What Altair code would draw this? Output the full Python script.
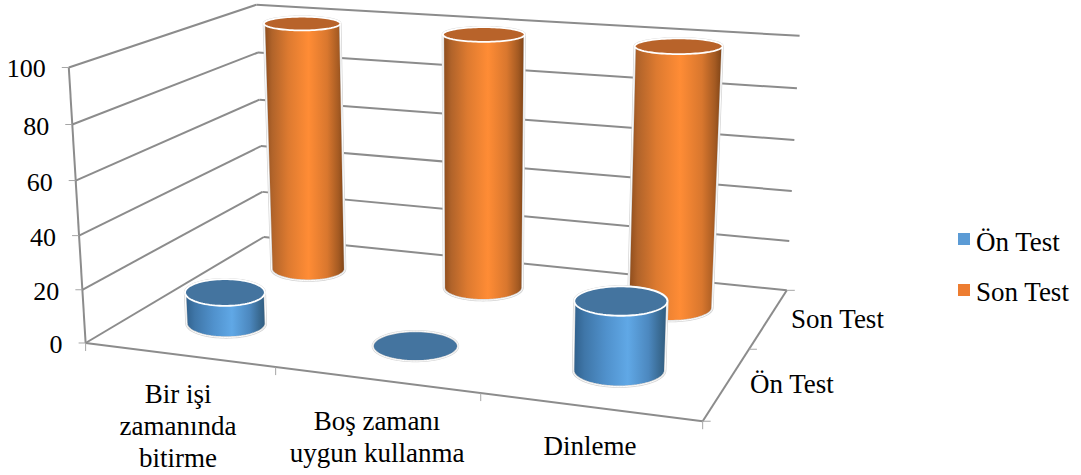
import altair as alt
import numpy as np
import pandas as pd

# Chart values
categories = ["Bir işi zamanında bitirme", "Boş zamanı uygun kullanma", "Dinleme"]
series = ["Ön Test", "Son Test"]
on_test = [12, 0, 25]
son_test = [100, 100, 100]
value_ticks = [0, 20, 40, 60, 80, 100]

W, H = 1081, 475
SERIF = "Liberation Serif"
FONT_SIZE = 27
GRID = "#8c8c8c"

# Camera calibration: box position (x, depth, value/100) -> canvas position
world = [(0, 0, 0), (0, 0, 1), (0, 1, 0), (0, 1, 1), (1, 1, 0), (1, 1, 1),
         (1, 0, 0), (1 / 3, 0, 0), (2 / 3, 0, 0), (1, .5, 0)]
canvas = [(85, 342), (70, 67), (265, 237), (255, 5), (787, 290), (800, 36),
          (703, 420), (275, 368), (481, 395), (748, 349)]
rows = []
for (a, b, c), (u, v) in zip(world, canvas):
    rows.append([a, b, c, 1, 0, 0, 0, 0, -u * a, -u * b, -u * c, -u])
    rows.append([0, 0, 0, 0, a, b, c, 1, -v * a, -v * b, -v * c, -v])
CAMERA = np.linalg.svd(np.array(rows, float))[2][-1].reshape(3, 4)


def project(x, d, value):
    p = CAMERA @ np.array([x, d, value / 100, 1.0])
    return p[0] / p[2], p[1] / p[2]


X = alt.X("px:Q", scale=alt.Scale(domain=[0, W], range=[0, W]), axis=None)
Y = alt.Y("py:Q", scale=alt.Scale(domain=[0, H], range=[0, H]), axis=None)


def segments(pairs, **mark):
    """Draw straight strokes between pairs of canvas positions."""
    recs = []
    for k, (a, b) in enumerate(pairs):
        recs += [dict(px=a[0], py=a[1], seg=k, n=0), dict(px=b[0], py=b[1], seg=k, n=1)]
    return alt.Chart(pd.DataFrame(recs)).mark_line(**mark).encode(
        x=X, y=Y, detail="seg:N", order="n:Q")


def polygon(points, **mark):
    pts = list(points) + [points[0]]
    frame = pd.DataFrame(dict(px=[p[0] for p in pts], py=[p[1] for p in pts], n=range(len(pts))))
    return alt.Chart(frame).mark_line(**mark).encode(x=X, y=Y, order="n:Q")


def labels(texts, align="center", size=FONT_SIZE):
    frame = pd.DataFrame(texts, columns=["px", "py", "t"])
    return alt.Chart(frame).mark_text(
        font=SERIF, fontSize=size, color="#000000", align=align, baseline="middle"
    ).encode(x=X, y=Y, text="t:N")


def hull(points):
    pts = sorted(set(points))
    def half(seq):
        out = []
        for p in seq:
            while len(out) > 1 and ((out[-1][0] - out[-2][0]) * (p[1] - out[-2][1])
                                    - (out[-1][1] - out[-2][1]) * (p[0] - out[-2][0])) <= 0:
                out.pop()
            out.append(p)
        return out[:-1]
    return half(pts) + half(pts[::-1])


def gradient(stops):
    return alt.LinearGradient(
        gradient="linear", x1=0, x2=1, y1=0, y2=0,
        stops=[alt.GradientStop(color=c, offset=o) for o, c in stops])


ORANGE_BODY = gradient([(0, "#8a4a1b"), (.1, "#b0632a"), (.3, "#dd7a30"), (.55, "#ff8c35"),
                        (.78, "#d9772e"), (.92, "#a45a22"), (1, "#7a4115")])
BLUE_BODY = gradient([(0, "#2f5f8a"), (.12, "#3f76a8"), (.35, "#5091cc"), (.58, "#60a8e6"),
                      (.8, "#4c88bf"), (.93, "#38688f"), (1, "#2f5a7e")])
ORANGE_TOP, BLUE_TOP = "#b8632a", "#44749f"
RX, RD = 0.0725, 0.117


def cylinder(i, j, value):
    cx, cd = (i + .5) / 3, (j + .5) / 2
    angles = np.linspace(0, 2 * np.pi, 96, endpoint=False)

    def ring(v):
        # Level ellipse around the projected centre, sized from the box axes
        mx, my = project(cx, cd, v)
        a = abs(project(cx + RX, cd, v)[0] - project(cx - RX, cd, v)[0]) / 2
        b = abs(project(cx, cd + RD, v)[1] - project(cx, cd - RD, v)[1]) / 2
        return [(mx + a * np.cos(t), my + b * np.sin(t)) for t in angles]

    body_fill, top_fill = (BLUE_BODY, BLUE_TOP) if j == 0 else (ORANGE_BODY, ORANGE_TOP)
    top = ring(value)
    if value <= 0:
        return [polygon(top, fill=top_fill, stroke="#d9d9d9", strokeWidth=2.2),
                polygon(top, stroke="#ffffff", strokeWidth=1)]
    side = hull(ring(0) + top)
    return [polygon(side, fill=body_fill, stroke="#d4d4d4", strokeWidth=2.4),
            polygon(side, stroke="#ffffff", strokeWidth=1),
            polygon(top, fill=top_fill, stroke="#ffffff", strokeWidth=1.8)]


layers = []

# Walls and floor
wall = []
for v in value_ticks:
    wall.append((project(0, 0, v), project(0, 1, v)))
    if v > 0:
        wall.append((project(0, 1, v), project(1, 1, v)))
wall.append((project(0, 0, 0), project(0, 0, 100)))
wall.append((project(0, 1, 0), project(1, 1, 0)))
wall.append((project(0, 0, 0), project(1, 0, 0)))
wall.append((project(1, 0, 0), project(1, 1, 0)))
layers.append(segments(wall, color=GRID, strokeWidth=2))

# Tick marks
ticks = []
for v in value_ticks:
    a = project(0, 0, v)
    ticks.append(((a[0] - 7, a[1]), a))
for f in [0, 1 / 3, 2 / 3, 1]:
    a = project(f, 0, 0)
    ticks.append((a, (a[0], a[1] + 8)))
for f in [0, .5, 1]:
    a = project(1, f, 0)
    ticks.append((a, (a[0] + 8, a[1])))
layers.append(segments(ticks, color="#a6a6a6", strokeWidth=1))

# Rear row first so the front row overlaps it
for i, v in enumerate(son_test):
    layers += cylinder(i, 1, v)
for i, v in enumerate(on_test):
    layers += cylinder(i, 0, v)

# Axis text
value_text = []
for v in value_ticks:
    a = project(0, 0, v)
    value_text.append((a[0] - 23, a[1] + 2, str(v)))
layers.append(labels(value_text, align="right", size=26))

category_lines = [["Bir işi", "zamanında", "bitirme"],
                  ["Boş zamanı", "uygun kullanma"],
                  [categories[2]]]
category_anchor = [(178, 395), (377, 422), (590, 447)]
cat_text = []
for lines, (ax, ay) in zip(category_lines, category_anchor):
    for k, line in enumerate(lines):
        cat_text.append((ax, ay + k * 32, line))
layers.append(labels(cat_text))
layers.append(labels([(791, 320, series[1]), (750, 385, series[0])], align="left"))

# Legend
legend = pd.DataFrame(dict(px=[964, 964], py=[239, 290], s=series))
layers.append(alt.Chart(legend).mark_square(size=144, opacity=1).encode(
    x=X, y=Y,
    color=alt.Color("s:N", scale=alt.Scale(domain=series, range=["#5b9bd5", "#ed7d31"]), legend=None)))
layers.append(labels([(976, 243, series[0]), (976, 293, series[1])], align="left"))

chart = alt.layer(*layers).properties(
    width=W, height=H, padding=0, autosize=alt.AutoSizeParams(type="none"), background="#ffffff"
).configure_view(stroke=None)

chart.save("out.html", embed_options={"renderer": "svg", "actions": False})
